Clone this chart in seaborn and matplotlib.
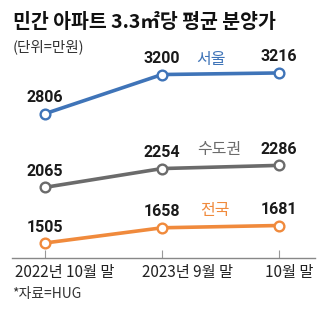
import matplotlib
matplotlib.use("Agg")
import matplotlib.pyplot as plt
import seaborn as sns
import pandas as pd

sns.set_theme(style="white")
plt.rcParams["font.family"] = ["Noto Sans CJK KR", "DejaVu Sans"]

# Data
periods = ["2022년 10월 말", "2023년 9월 말", "10월 말"]
seoul = [2806, 3200, 3216]
capital = [2065, 2254, 2286]
nation = [1505, 1658, 1681]
series_names = ["서울", "수도권", "전국"]
colors = ["#3f74b8", "#6b6b6b", "#f08a3c"]

W, H = 329, 332
fig = plt.figure(figsize=(W / 100, H / 100), dpi=100)
ax = fig.add_axes([12 / W, (H - 258) / H, 303 / W, 258 / H])

xs = list(range(len(periods)))
for vals, name, c in zip([seoul, capital, nation], series_names, colors):
    df = pd.DataFrame({"x": xs, "v": vals})
    sns.lineplot(data=df, x="x", y="v", ax=ax, color=c, linewidth=2.6,
                 marker="o", markersize=7, markerfacecolor="white",
                 markeredgecolor=c, markeredgewidth=1.7, zorder=3)
    for xi, v in zip(xs, vals):
        ax.annotate(f"{v}", (xi, v), xytext=(0, 11.5), textcoords="offset points",
                    ha="center", va="center", fontsize=11.5, fontweight="bold",
                    family=["Roboto", "DejaVu Sans"], color="#1a1a1a")

# Series labels
label_pos = {"서울": (1.42, 3350), "수도권": (1.49, 2450), "전국": (1.45, 1830)}
for name, c in zip(series_names, colors):
    lx, ly = label_pos[name]
    ax.text(lx, ly, name, ha="center", va="center", fontsize=11.5, color=c)

ax.set_xlim(-0.282, 2.308)
ax.set_ylim(1354, 3950)
ax.set_xlabel("")
ax.set_ylabel("")
ax.set_yticks([])
ax.set_xticks(xs)
ax.set_xticklabels([])
ax.tick_params(axis="x", direction="in", length=6, width=0.8, color="#999999", bottom=True)

# Period labels, set slightly right of their ticks
label_x = [0.167, 1.214, 2.085]
for lx, text in zip(label_x, periods):
    ax.annotate(text, (lx, 0), xycoords=("data", "axes fraction"), xytext=(0, -10.5),
                textcoords="offset points", ha="center", va="center",
                fontsize=11, color="#222222", annotation_clip=False)

for s in ["top", "right", "left"]:
    ax.spines[s].set_visible(False)
ax.spines["bottom"].set_color("#888888")
ax.spines["bottom"].set_linewidth(1.0)
ax.patch.set_alpha(0)

fig.text(13 / W, 1 - 22 / H, "민간 아파트 3.3㎡당 평균 분양가", fontsize=14, fontweight="bold",
         color="#111111", ha="left", va="center")
fig.text(13 / W, 1 - 47 / H, "(단위=만원)", fontsize=10.5, color="#333333", ha="left", va="center")
fig.text(12 / W, 1 - 294 / H, "*자료=HUG", fontsize=10, color="#333333", ha="left", va="center")

fig.savefig("out.png", dpi=100)
